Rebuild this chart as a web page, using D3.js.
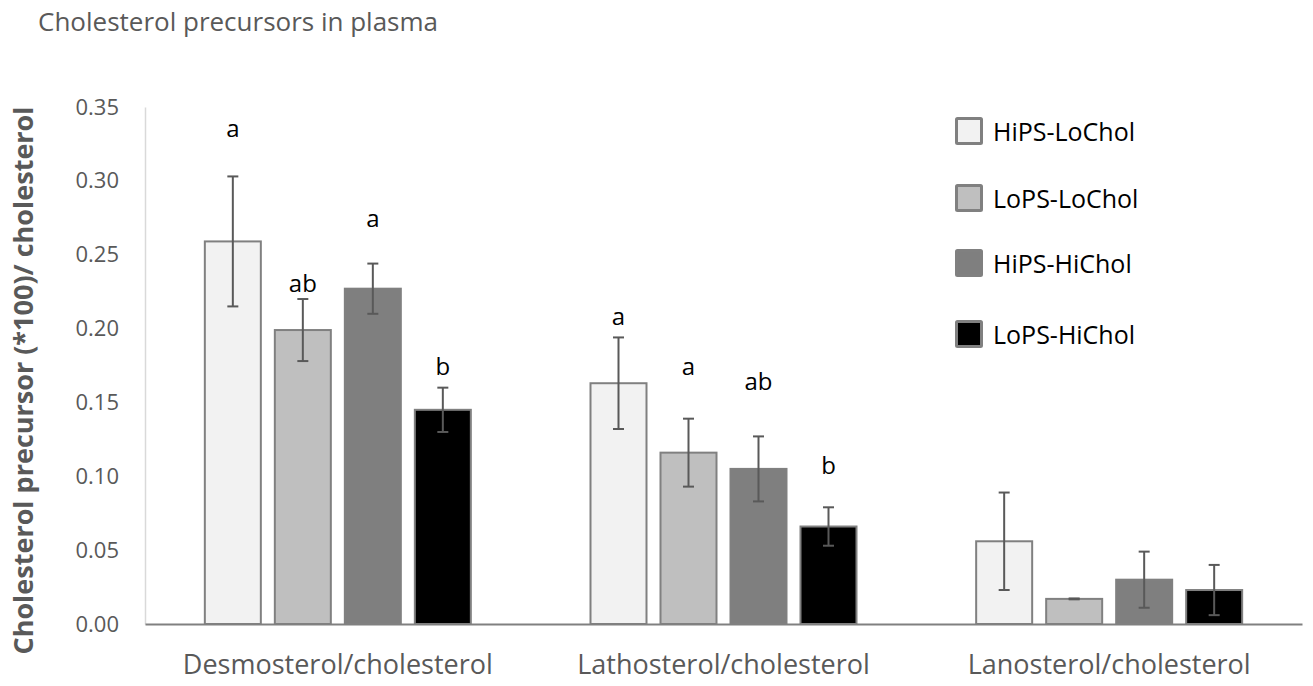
<!DOCTYPE html>
<html>
<head>
<meta charset="utf-8">
<script src="https://cdn.jsdelivr.net/npm/d3@7"></script>
<style>
  body { margin: 0; background: #fff; }
  text { font-family: "Open Sans", sans-serif; }
</style>
</head>
<body>
<div id="chart"></div>
<script>
// chart data
const categories = ["Desmosterol/cholesterol", "Lathosterol/cholesterol", "Lanosterol/cholesterol"];
const series = ["HiPS-LoChol", "LoPS-LoChol", "HiPS-HiChol", "LoPS-HiChol"];
const colors = ["#f2f2f2", "#bfbfbf", "#7f7f7f", "#000000"];

// values[series][category]
const values = [
  [0.259, 0.163, 0.056],
  [0.199, 0.116, 0.017],
  [0.227, 0.105, 0.030],
  [0.145, 0.066, 0.023]
];
const errors = [
  [0.044, 0.031, 0.033],
  [0.021, 0.023, 0.0003],
  [0.017, 0.022, 0.019],
  [0.015, 0.013, 0.017]
];
// significance letters and the height (in y units) they sit at
const letters = [
  ["a", "a", ""],
  ["ab", "a", ""],
  ["a", "ab", ""],
  ["b", "b", ""]
];
const letterY = [
  [0.336, 0.209, 0],
  [0.231, 0.175, 0],
  [0.275, 0.165, 0],
  [0.175, 0.108, 0]
];
const yTicks = [0, 0.05, 0.10, 0.15, 0.20, 0.25, 0.30, 0.35];

const width = 1313, height = 686;
const margin = { top: 107, right: 11, bottom: 62, left: 145 };

const svg = d3.select("#chart").append("svg")
  .attr("width", width)
  .attr("height", height);

const y = d3.scaleLinear()
  .domain([0, 0.35])
  .range([height - margin.bottom, margin.top]);

const x0 = d3.scaleBand()
  .domain(categories)
  .range([margin.left, width - margin.right])
  .padding(0);

const bw = x0.bandwidth();
const x1 = d3.scaleBand()
  .domain(series)
  .range([bw / 2 - 140, bw / 2 + 140])
  .paddingInner(0.2)
  .paddingOuter(0.1);

// title
svg.append("text")
  .attr("x", 38)
  .attr("y", 31)
  .attr("font-size", 26)
  .attr("fill", "#595959")
  .text("Cholesterol precursors in plasma");

// y axis
const yAxis = svg.append("g")
  .attr("transform", `translate(${margin.left},0)`)
  .call(d3.axisLeft(y).tickValues(yTicks).tickFormat(d3.format(".2f")).tickSize(0).tickPadding(26));
yAxis.select(".domain").attr("stroke", "#d9d9d9").attr("stroke-width", 1.5);
yAxis.selectAll("text").attr("font-size", 22).attr("fill", "#595959").attr("font-family", "Open Sans");

// y title
svg.append("text")
  .attr("transform", `translate(33,${(y(0) + y(0.35)) / 2 + 15}) rotate(-90)`)
  .attr("text-anchor", "middle")
  .attr("font-size", 27)
  .attr("font-weight", "bold")
  .attr("fill", "#595959")
  .text("Cholesterol precursor (*100)/ cholesterol");

// groups
const groups = svg.append("g").selectAll("g")
  .data(categories)
  .join("g")
  .attr("transform", d => `translate(${x0(d)},0)`);

groups.selectAll("rect")
  .data((c, ci) => series.map((s, si) => ({ s, si, v: values[si][ci] })))
  .join("rect")
  .attr("x", d => x1(d.s))
  .attr("y", d => y(d.v))
  .attr("width", x1.bandwidth())
  .attr("height", d => y(0) - y(d.v))
  .attr("fill", d => colors[d.si])
  .attr("stroke", "#808080")
  .attr("stroke-width", 2);

// error bars
const eb = groups.selectAll("g.err")
  .data((c, ci) => series.map((s, si) => ({ s, v: values[si][ci], e: errors[si][ci] })))
  .join("g")
  .attr("class", "err")
  .attr("stroke", "#595959")
  .attr("stroke-width", 2);

eb.append("line")
  .attr("x1", d => x1(d.s) + x1.bandwidth() / 2)
  .attr("x2", d => x1(d.s) + x1.bandwidth() / 2)
  .attr("y1", d => y(d.v + d.e))
  .attr("y2", d => y(d.v - d.e));
eb.append("line")
  .attr("x1", d => x1(d.s) + x1.bandwidth() / 2 - 5.5)
  .attr("x2", d => x1(d.s) + x1.bandwidth() / 2 + 5.5)
  .attr("y1", d => y(d.v + d.e))
  .attr("y2", d => y(d.v + d.e));
eb.append("line")
  .attr("x1", d => x1(d.s) + x1.bandwidth() / 2 - 5.5)
  .attr("x2", d => x1(d.s) + x1.bandwidth() / 2 + 5.5)
  .attr("y1", d => y(d.v - d.e))
  .attr("y2", d => y(d.v - d.e));

// letters
groups.selectAll("text.sig")
  .data((c, ci) => series.map((s, si) => ({ s, t: letters[si][ci], ly: letterY[si][ci] })))
  .join("text")
  .attr("class", "sig")
  .attr("x", d => x1(d.s) + x1.bandwidth() / 2)
  .attr("y", d => y(d.ly))
  .attr("text-anchor", "middle")
  .attr("dominant-baseline", "central")
  .attr("font-size", 24)
  .attr("fill", "#000")
  .text(d => d.t);

// x axis
const xAxis = svg.append("g")
  .attr("transform", `translate(0,${y(0)})`)
  .call(d3.axisBottom(x0).tickSize(0).tickPadding(31));
xAxis.select(".domain").attr("stroke", "#808080").attr("stroke-width", 2);
xAxis.selectAll("text").attr("font-size", 27).attr("fill", "#595959").attr("font-family", "Open Sans");

// legend
const legend = svg.append("g").attr("transform", "translate(955,117)");
const li = legend.selectAll("g")
  .data(series)
  .join("g")
  .attr("transform", (d, i) => `translate(0,${[0, 67, 132, 203][i]})`);
li.append("rect")
  .attr("x", 1.5).attr("y", 1.5)
  .attr("width", 25).attr("height", 25)
  .attr("rx", 1)
  .attr("fill", (d, i) => colors[i])
  .attr("stroke", "#808080")
  .attr("stroke-width", 3);
li.append("text")
  .attr("x", 38)
  .attr("y", 14)
  .attr("dominant-baseline", "central")
  .attr("font-size", 25)
  .attr("fill", "#000")
  .text(d => d);
</script>
</body>
</html>
